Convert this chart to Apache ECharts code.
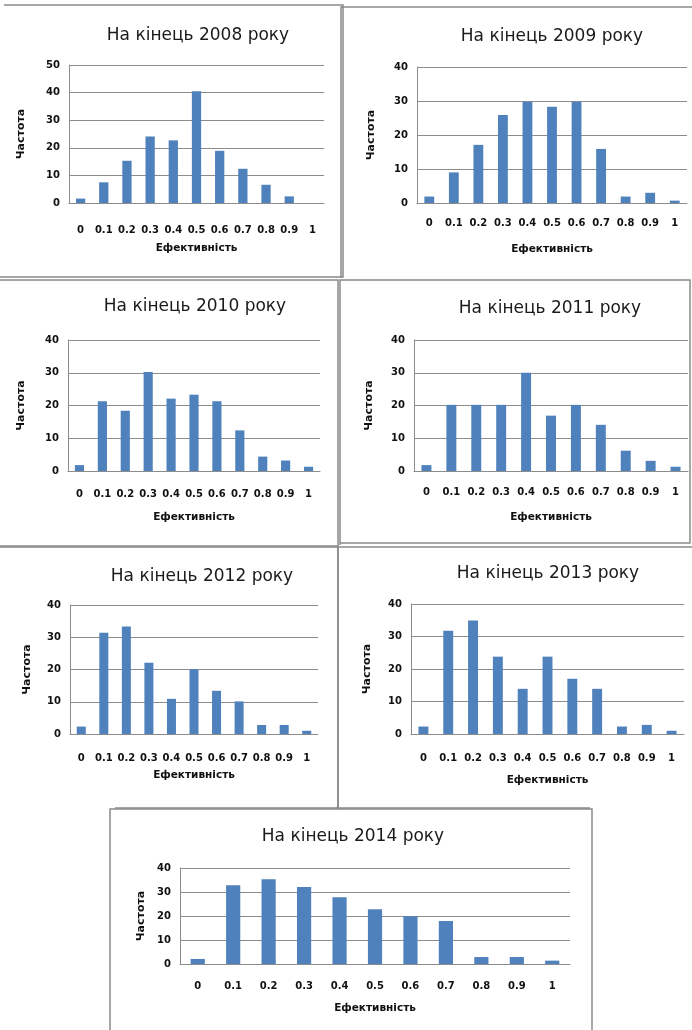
<!DOCTYPE html>
<html>
<head>
<meta charset="utf-8">
<script src="https://cdn.jsdelivr.net/npm/echarts@6/dist/echarts.min.js"></script>
<style>
html,body{margin:0;padding:0;background:#fff;}
#c{width:692px;height:1030px;}
</style>
</head>
<body>
<div id="c"></div>
<script>
const categories = ['0','0.1','0.2','0.3','0.4','0.5','0.6','0.7','0.8','0.9','1'];
const titles = ['На кінець 2008 року','На кінець 2009 року','На кінець 2010 року','На кінець 2011 року','На кінець 2012 року','На кінець 2013 року','На кінець 2014 року'];
const v2008 = [1.6, 7.5, 15.3, 24.1, 22.7, 40.5, 18.9, 12.4, 6.6, 2.4, 0];
const v2009 = [1.9, 9, 17.1, 25.9, 29.8, 28.3, 29.8, 15.9, 1.9, 3, 0.7];
const v2010 = [1.8, 21.3, 18.4, 30.2, 22.1, 23.3, 21.3, 12.4, 4.4, 3.2, 1.3];
const v2011 = [1.8, 20.2, 20.2, 20.2, 30, 16.9, 20.2, 14.1, 6.2, 3.1, 1.3];
const v2012 = [2.3, 31.4, 33.3, 22.1, 10.9, 20.1, 13.4, 10.1, 2.8, 2.8, 1];
const v2013 = [2.3, 31.8, 34.9, 23.8, 13.9, 23.8, 17, 13.9, 2.3, 2.8, 1];
const v2014 = [2.1, 32.8, 35.3, 32.1, 27.8, 22.8, 19.9, 17.9, 2.9, 2.9, 1.4];
const yMax = [50, 40, 40, 40, 40, 40, 40];
const yInterval = 10;
const xName = 'Ефективність';
const yName = 'Частота';

const seriesData = [v2008, v2009, v2010, v2011, v2012, v2013, v2014];

// layout of each panel (plot area), title position, name gaps
const panels = [
  {l:69,  t:65,  w:255, h:138, tx:193, ty:32,  xg:40, yg:42, lm:22},
  {l:417, t:67,  w:270, h:136, tx:547, ty:33,  xg:41, yg:40, lm:15},
  {l:68,  t:340, w:252, h:131, tx:190, ty:303, xg:41, yg:41, lm:18},
  {l:414, t:340, w:274, h:131, tx:545, ty:305, xg:41, yg:39, lm:16},
  {l:70,  t:605, w:248, h:129, tx:197, ty:573, xg:36, yg:37, lm:19},
  {l:411, t:604, w:273, h:130, tx:543, ty:570, xg:41, yg:38, lm:19},
  {l:180, t:868, w:390, h:96,  tx:348, ty:833, xg:39, yg:33, lm:17}
];

const gridColor = '#8c8c8c';
const fontFam = 'DejaVu Sans';

const option = {
  animation: false,
  backgroundColor: '#fff',
  title: panels.map((p, i) => ({
    text: titles[i],
    left: p.tx,
    top: p.ty - 10,
    textAlign: 'center',
    textStyle: {fontFamily: fontFam, fontSize: 17, fontWeight: 'normal', color: '#1a1a1a'}
  })),
  grid: panels.map(p => ({left: p.l, top: p.t, width: p.w, height: p.h, containLabel: false})),
  xAxis: panels.map((p, i) => ({
    type: 'category',
    gridIndex: i,
    data: categories,
    name: xName,
    nameLocation: 'middle',
    nameGap: p.xg,
    nameTextStyle: {fontFamily: fontFam, fontSize: 10.5, fontWeight: 'bold', color: '#111'},
    axisLine: {show: true, lineStyle: {color: gridColor, width: 1}},
    axisTick: {show: false},
    axisLabel: {interval: 0, margin: p.lm, fontFamily: fontFam, fontSize: 10, fontWeight: 'bold', color: '#111'},
    splitLine: {show: false}
  })),
  yAxis: panels.map((p, i) => ({
    type: 'value',
    gridIndex: i,
    min: 0,
    max: yMax[i],
    interval: yInterval,
    name: yName,
    nameLocation: 'middle',
    nameGap: p.yg,
    nameTextStyle: {fontFamily: fontFam, fontSize: 11, fontWeight: 'bold', color: '#111'},
    axisLine: {show: true, lineStyle: {color: gridColor, width: 1}},
    axisTick: {show: false},
    axisLabel: {margin: 9, fontFamily: fontFam, fontSize: 10, fontWeight: 'bold', color: '#111'},
    splitLine: {show: true, lineStyle: {color: gridColor, width: 1}}
  })),
  series: seriesData.map((d, i) => ({
    type: 'bar',
    xAxisIndex: i,
    yAxisIndex: i,
    data: d,
    barCategoryGap: '60%',
    itemStyle: {color: '#4f81bd'},
    silent: true
  })),
  graphic: [
    // panel borders (decorative frames)
    {type: 'polyline', shape: {points: [[4,5],[343,5],[343,277],[0,277]]}, style: {stroke: '#8a8a8a', lineWidth: 1.5, fill: null}},
    {type: 'polyline', shape: {points: [[341,278],[341,7],[692,7]]}, style: {stroke: '#8a8a8a', lineWidth: 1.5, fill: null}},
    {type: 'polyline', shape: {points: [[0,280],[338,280],[338,546],[0,546]]}, style: {stroke: '#8a8a8a', lineWidth: 1.5, fill: null}},
    {type: 'polyline', shape: {points: [[340,545],[340,280],[690,280],[690,543],[340,543]]}, style: {stroke: '#8a8a8a', lineWidth: 1.5, fill: null}},
    {type: 'polyline', shape: {points: [[0,547],[338,547],[338,808],[115,808]]}, style: {stroke: '#8a8a8a', lineWidth: 1.5, fill: null}},
    {type: 'polyline', shape: {points: [[338,808],[338,547],[692,547]]}, style: {stroke: '#8a8a8a', lineWidth: 1.5, fill: null}},
    {type: 'line', shape: {x1: 336, y1: 808, x2: 590, y2: 808}, style: {stroke: '#8a8a8a', lineWidth: 1.5}},
    {type: 'polyline', shape: {points: [[110,1032],[110,809],[592,809],[592,1032]]}, style: {stroke: '#8a8a8a', lineWidth: 1.5, fill: null}}
  ]
};

const chart = echarts.init(document.getElementById('c'), null, {renderer: 'canvas'});
chart.setOption(option);
</script>
</body>
</html>
